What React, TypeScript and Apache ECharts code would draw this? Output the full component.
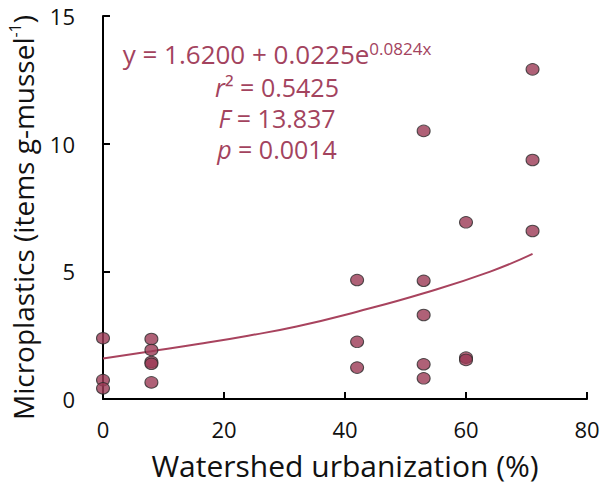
import React, { useEffect, useRef } from "react";
import * as echarts from "echarts";

const urbanization = [0, 0, 0, 8, 8, 8, 8, 8, 42, 42, 42, 53, 53, 53, 53, 53, 60, 60, 60, 71, 71, 71];
const microplastics = [2.38, 0.74, 0.42, 2.35, 1.92, 1.45, 1.38, 0.65, 4.66, 2.24, 1.23, 10.5, 4.63, 3.29, 1.36, 0.81, 6.92, 1.62, 1.53, 12.91, 9.36, 6.58];

const trendX = [0, 8, 16, 24, 32, 42, 53, 64, 71];
const trendY = [1.59, 1.87, 2.16, 2.48, 2.84, 3.42, 4.14, 4.99, 5.68];

const xTicks = [0, 20, 40, 60, 80];
const yTicks = [0, 5, 10, 15];

const FONT = "Open Sans";
const TEXT_COLOR = "#A3435E";
const MARK_COLOR = "#9B3A55";

export default function App() {
  const ref = useRef<HTMLDivElement>(null);
  useEffect(() => {
    if (!ref.current) return;
    const chart = echarts.init(ref.current, undefined, { renderer: "svg" });
    const axisBase = {
      type: "value" as const,
      axisLine: { show: true, lineStyle: { color: "#000", width: 2 } },
      axisTick: { show: true, inside: true, length: 7, lineStyle: { color: "#000", width: 2 } },
      splitLine: { show: false },
    };
    const italicRich = { i: { fontStyle: "italic", fontSize: 25, fontFamily: FONT, fill: TEXT_COLOR, lineHeight: 27 } };
    const annot = (y: number, text: string) => ({
      type: "text",
      x: 277,
      y,
      style: {
        text,
        fill: TEXT_COLOR,
        fontFamily: FONT,
        fontSize: 25,
        lineHeight: 27,
        align: "center",
        verticalAlign: "middle",
        rich: italicRich,
      },
    });
    chart.setOption({
      animation: false,
      backgroundColor: "#fff",
      grid: { left: 103, right: 14, top: 16, bottom: 87, containLabel: false, outerBoundsMode: "none" },
      xAxis: {
        ...axisBase,
        min: xTicks[0],
        max: xTicks[xTicks.length - 1],
        interval: 20,
        axisLabel: { margin: 19, fontSize: 22, color: "#111", fontFamily: FONT },
        name: "Watershed urbanization (%)",
        nameLocation: "middle",
        nameGap: 51,
        nameTextStyle: { fontSize: 30, lineHeight: 31, color: "#111", fontFamily: FONT },
      },
      yAxis: {
        ...axisBase,
        min: yTicks[0],
        max: yTicks[yTicks.length - 1],
        interval: 5,
        axisLabel: { margin: 28, fontSize: 22, color: "#111", fontFamily: FONT },
        name: "Microplastics (items g-mussel{sup|-1})",
        nameLocation: "middle",
        nameGap: 60,
        nameRotate: 90,
        nameTextStyle: {
          fontSize: 28,
          color: "#111",
          fontFamily: FONT,
          lineHeight: 32,
          padding: [0, 20, 0, 0],
          rich: {
            sup: { fontSize: 16, verticalAlign: "top", color: "#111", fontFamily: FONT, lineHeight: 32 },
          },
        },
      },
      series: [
        {
          type: "line",
          data: trendX.map((x, i) => [x, trendY[i]]),
          smooth: true,
          symbol: "none",
          lineStyle: { color: "#A8435E", width: 2 },
          z: 1,
        },
        {
          type: "scatter",
          data: urbanization.map((x, i) => [x, microplastics[i]]),
          symbol: "circle",
          symbolSize: [13, 11.5],
          itemStyle: { color: MARK_COLOR, borderColor: "#2a2a2a", borderWidth: 1 },
          z: 2,
        },
      ],
      graphic: [
        {
          type: "text",
          x: 277,
          y: 54,
          style: {
            text: "y = 1.6200 + 0.0225e{sup|0.0824x}",
            fill: TEXT_COLOR,
            fontFamily: FONT,
            fontSize: 26,
            lineHeight: 28,
            align: "center",
            verticalAlign: "middle",
            rich: {
              sup: { fontSize: 17, verticalAlign: "top", fill: TEXT_COLOR, fontFamily: FONT, lineHeight: 28 },
            },
          },
        },
        annot(87, "{i|r}² = 0.5425"),
        annot(118, "{i|F} = 13.837"),
        annot(149, "{i|p} = 0.0014"),
      ],
    });
    return () => chart.dispose();
  }, []);
  return <div ref={ref} style={{ width: 601, height: 486, position: "absolute", left: 0, top: 0 }} />;
}
